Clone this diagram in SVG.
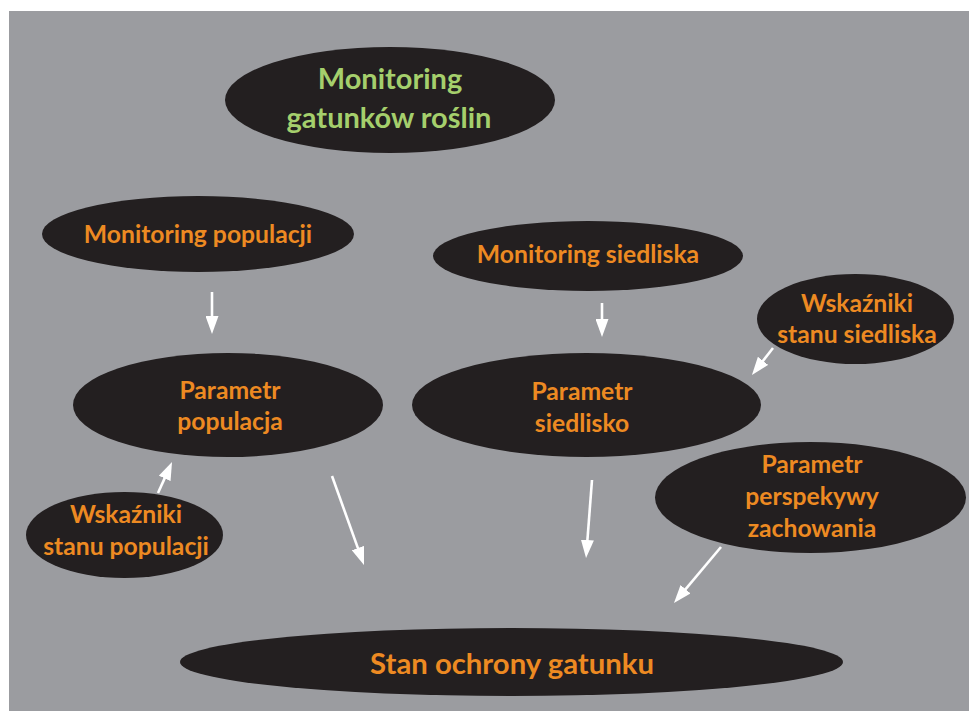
<svg xmlns="http://www.w3.org/2000/svg" width="969" height="711" viewBox="0 0 969 711">
<style>
.node ellipse{fill:#231f20}
.t{font-family:Lato,"Open Sans","Liberation Sans",sans-serif;font-weight:700;text-anchor:middle;fill:#ed8a22}
.g{fill:#a5cf6c}
.conn line{stroke:#ffffff;stroke-width:2.6;fill:none}
</style>
<defs>
<marker id="ah" markerUnits="userSpaceOnUse" markerWidth="18" markerHeight="13" refX="8" refY="6.5" orient="auto" viewBox="0 0 18 13">
<path d="M0,0 L18,6.5 L0,13 z" fill="#ffffff"/>
</marker>
</defs>
<rect x="0" y="0" width="969" height="711" fill="#ffffff"/>
<rect x="9" y="11" width="960" height="700" fill="#9b9ca0"/>

<g id="title" class="node">
<ellipse cx="390" cy="100" rx="165" ry="53"/>
<text class="t g" x="390" y="89" font-size="29">Monitoring</text>
<text class="t g" x="389" y="128" font-size="29">gatunków roślin</text>
</g>

<g id="mon-pop" class="node">
<ellipse cx="198" cy="234" rx="156" ry="38"/>
<text class="t" x="198" y="243" font-size="24.7">Monitoring populacji</text>
</g>

<g id="mon-sied" class="node">
<ellipse cx="588" cy="256" rx="155" ry="35"/>
<text class="t" x="588" y="263" font-size="24.7">Monitoring siedliska</text>
</g>

<g id="par-pop" class="node">
<ellipse cx="228" cy="405" rx="155" ry="52"/>
<text class="t" x="230" y="399" font-size="24.7">Parametr</text>
<text class="t" x="230" y="430" font-size="24.7">populacja</text>
</g>

<g id="par-sied" class="node">
<ellipse cx="586.5" cy="405" rx="174.5" ry="52"/>
<text class="t" x="582" y="400" font-size="24.7">Parametr</text>
<text class="t" x="582" y="432" font-size="24.7">siedlisko</text>
</g>

<g id="wsk-sied" class="node">
<ellipse cx="855.5" cy="319" rx="98.5" ry="45"/>
<text class="t" x="857" y="312" font-size="24.7">Wskaźniki</text>
<text class="t" x="857" y="343" font-size="24.7">stanu siedliska</text>
</g>

<g id="wsk-pop" class="node">
<ellipse cx="124.5" cy="535" rx="98.5" ry="43"/>
<text class="t" x="126" y="523" font-size="24.7">Wskaźniki</text>
<text class="t" x="126" y="555" font-size="24.7">stanu populacji</text>
</g>

<g id="par-persp" class="node">
<ellipse cx="810.5" cy="497.5" rx="155.5" ry="55.5"/>
<text class="t" x="812" y="473" font-size="24.7">Parametr</text>
<text class="t" x="812" y="505" font-size="24.7">perspekywy</text>
<text class="t" x="812" y="537" font-size="24.7">zachowania</text>
</g>

<g id="stan" class="node">
<ellipse cx="511.5" cy="662" rx="331.5" ry="34"/>
<text class="t" x="512" y="674" font-size="29.3">Stan ochrony gatunku</text>
</g>

<g id="connectors" class="conn">
<line x1="212" y1="292" x2="212" y2="324" marker-end="url(#ah)"/>
<line x1="602" y1="303" x2="602" y2="327" marker-end="url(#ah)"/>
<line x1="158" y1="493" x2="167.9" y2="471.1" marker-end="url(#ah)"/>
<line x1="332" y1="476" x2="360.6" y2="555.6" marker-end="url(#ah)"/>
<line x1="592" y1="480" x2="586.8" y2="548" marker-end="url(#ah)"/>
<line x1="721" y1="547" x2="680.4" y2="595.3" marker-end="url(#ah)"/>
<line x1="773" y1="348" x2="758.1" y2="367.1" marker-end="url(#ah)"/>
</g>
</svg>
